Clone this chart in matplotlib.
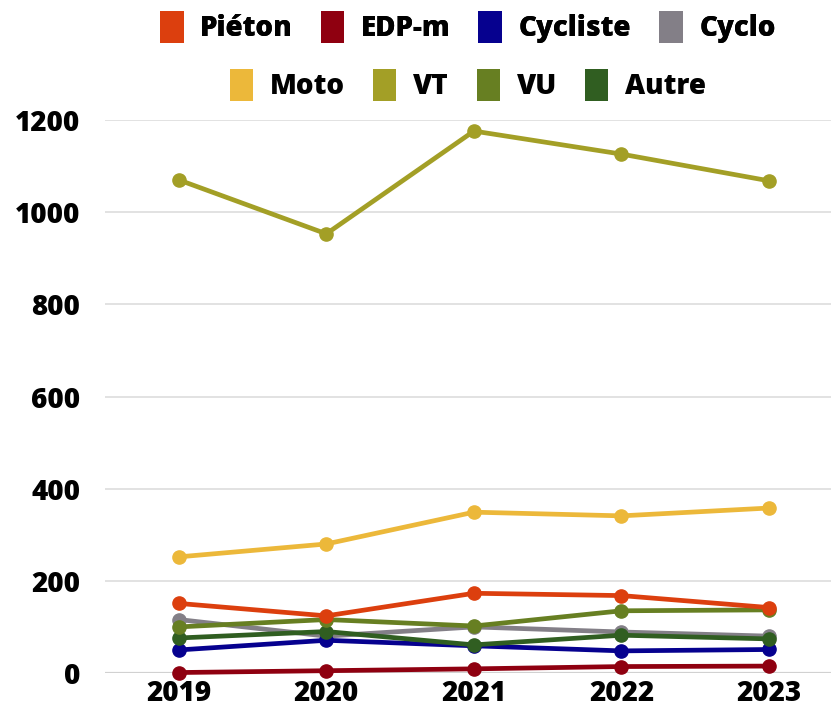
import matplotlib.pyplot as plt
from matplotlib.patches import Patch

# ── Données ───────────────────────────────────────────────────────────────────
years = [2019, 2020, 2021, 2022, 2023]

pieton   = [151, 124, 173, 168, 142]
edpm     = [1, 5, 9, 14, 15]
cycliste = [50, 71, 59, 48, 51]
cyclo    = [116, 80, 100, 89, 80]
moto     = [252, 280, 349, 341, 358]
vt       = [1070, 953, 1176, 1126, 1068]
vu       = [100, 116, 102, 135, 137]
autre    = [76, 90, 61, 82, 74]

labels = ["Piéton", "EDP-m", "Cycliste", "Cyclo", "Moto", "VT", "VU", "Autre"]
colors = ["#DC3F0E", "#8F0010", "#06018F", "#837F87",
          "#ECB83A", "#A39F26", "#677F22", "#305E21"]
series = [pieton, edpm, cycliste, cyclo, moto, vt, vu, autre]

plt.rcParams["font.family"] = ["Open Sans", "DejaVu Sans"]
FW = 800  # extra bold

fig = plt.figure(figsize=(8.31, 7.13), dpi=100)
ax = fig.add_axes([105 / 831, 1 - 673 / 713, 726 / 831, 553 / 713])

# Zeichenreihenfolge: VT und Moto zuerst, kleine Serien darüber
order = [5, 4, 3, 2, 7, 6, 0, 1]
for i in order:
    ax.plot(years, series[i], color=colors[i], linewidth=3.4,
            marker="o", markersize=9.5, zorder=3, clip_on=False)

ax.set_xlim(2018.5, 2023.42)
ax.set_ylim(0, 1200)
ax.set_yticks(range(0, 1201, 200))
ax.set_xticks(years)
ax.grid(axis="y", color="#DDDDDD", linewidth=1.2, zorder=0)
ax.axhline(0, color="#999999", linewidth=1.5, zorder=1)
for s in ax.spines.values():
    s.set_visible(False)
ax.tick_params(length=0, labelsize=20)
ax.tick_params(axis="x", pad=4)
ax.tick_params(axis="y", pad=18)
for lab in ax.get_xticklabels() + ax.get_yticklabels():
    lab.set_fontweight(FW)

# ── Legende in zwei zentrierten Zeilen ────────────────────────────────────────
def legend_row(idx, y):
    handles = [Patch(facecolor=colors[i], label=labels[i]) for i in idx]
    return fig.legend(handles=handles, loc="center", bbox_to_anchor=(0.563, y),
                      ncol=len(idx), frameon=False, handlelength=0.85,
                      handleheight=1.4, handletextpad=0.6, columnspacing=1.0,
                      prop={"weight": FW, "size": 20})

leg1 = legend_row([0, 1, 2, 3], 1 - 27 / 713)
leg2 = legend_row([4, 5, 6, 7], 1 - 85 / 713)
fig.add_artist(leg1)

fig.savefig("out.png", dpi=100)
